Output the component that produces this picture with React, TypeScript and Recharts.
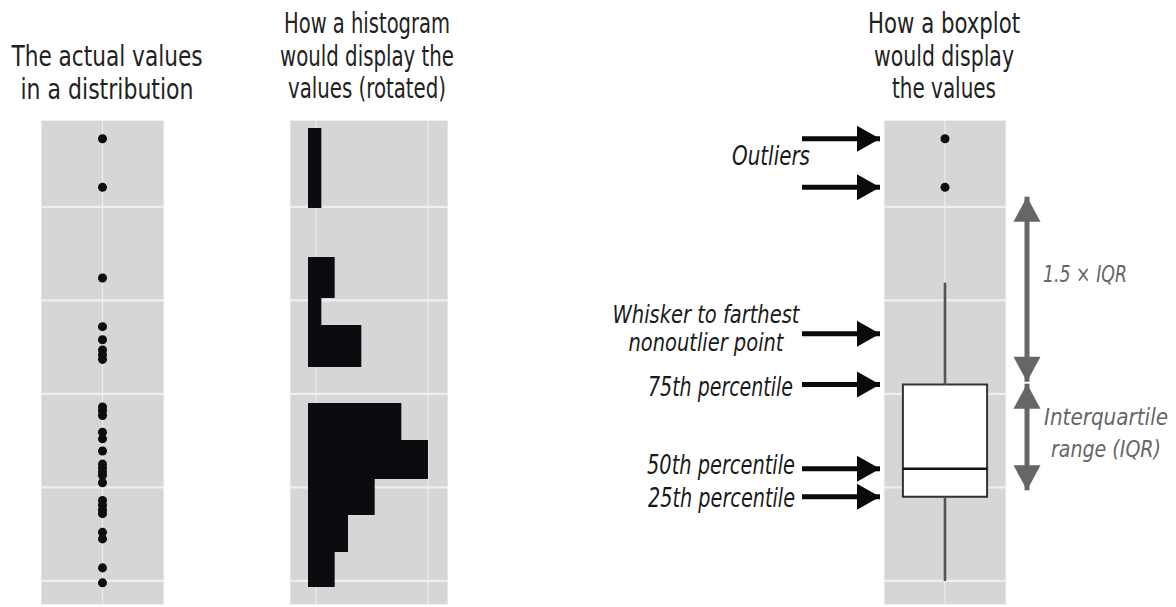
import React from "react";
import {
  ComposedChart,
  ScatterChart,
  Scatter,
  Area,
  Line,
  XAxis,
  YAxis,
  ZAxis,
  CartesianGrid,
  ReferenceLine,
  ReferenceArea,
} from "recharts";

// one value scale shared by the three panels
const valueDomain: [number, number] = [7.43, 59.3];
const gridValues = [10, 20, 30, 40, 50];

// the actual values (left panel)
const rawValues = [
  57.3, 52.1, 42.4, 37.2, 35.8, 34.7, 34.2, 33.7, 28.6, 28.2, 27.7, 25.9, 25.2,
  23.9, 22.5, 22.1, 21.7, 21.3, 20.5, 18.6, 18.1, 17.6, 17.2, 15.2, 14.5, 11.4,
  9.8,
];

// histogram: top edge of each bin, and its count
const binTops = [58.45, 49.89, 44.65, 40.27, 37.38, 32.89, 29.04, 25.08, 20.91, 17.06, 13.1, 9.36];
const binCounts = [1, 0, 2, 1, 4, 0, 7, 9, 5, 3, 2, 0];
const countTicks = [0.6, 9];

// boxplot summary
const whiskerLow = 10.0;
const q1 = 19.0;
const median = 22.0;
const q3 = 31.0;
const whiskerHigh = 41.9;
const outlierValues = [57.3, 52.1];

// ends of the grey range arrows
const fenceTop = 51.1;
const iqrArrowTop = 31.1;
const iqrArrowBottom = 19.7;

const dotData = rawValues.map((v) => ({ x: 0, v }));
const histData = binTops.map((edge, i) => ({ edge, count: binCounts[i] }));
const outlierData = outlierValues.map((v) => ({ x: 0, v }));

const PANEL_TOP = 120;
const PANEL_H = 485;
const zero = { top: 0, right: 0, bottom: 0, left: 0 };
const panelFill = "#d6d6d6";
const textFont = '"DejaVu Sans Condensed", "Liberation Sans Narrow", "Open Sans", sans-serif';

function panelGrid() {
  return [
    <CartesianGrid key="gv" horizontal={false} fill={panelFill} fillOpacity={1} stroke="#ededed" strokeWidth={1.2} />,
    <CartesianGrid key="gh" vertical={false} stroke="#efefef" strokeWidth={2.2} />,
  ];
}

// annotation layer: x in px from its left edge
const arrowFrom = 242;
const arrowTo = 320;
const rangeArrowX = 467;

const pointerValues = [...outlierValues, (q3 + whiskerHigh) / 2, q3, median, q1];
const pointerArrows = pointerValues.map((v) => [
  { x: arrowFrom, v, tip: "" },
  { x: arrowTo, v, tip: "right" },
]);
const rangeArrows = [
  [
    { x: rangeArrowX, v: fenceTop, tip: "up" },
    { x: rangeArrowX, v: q3 + 0.3, tip: "down" },
  ],
  [
    { x: rangeArrowX, v: iqrArrowTop, tip: "up" },
    { x: rangeArrowX, v: iqrArrowBottom, tip: "down" },
  ],
];

function arrowHead(color: string, len: number, half: number) {
  return (p: any) => {
    const { cx, cy, payload, key } = p;
    const t = payload?.tip;
    let pts = "";
    if (t === "right") pts = `${cx},${cy} ${cx - len},${cy - half} ${cx - len},${cy + half}`;
    else if (t === "up") pts = `${cx},${cy} ${cx - half},${cy + len} ${cx + half},${cy + len}`;
    else if (t === "down") pts = `${cx},${cy} ${cx - half},${cy - len} ${cx + half},${cy - len}`;
    if (!pts) return <g key={key} />;
    return <polygon key={key} points={pts} fill={color} />;
  };
}

const blackHead = arrowHead("#0a0a0a", 23, 13);
const greyHead = arrowHead("#666666", 25, 13.5);

type Label = { text: string; x: number; y: number; w: number; anchor: "start" | "middle" | "end" };

const titles: Label[] = [
  { text: "The actual values", x: 107, y: 66, w: 191, anchor: "middle" },
  { text: "in a distribution", x: 107, y: 98.5, w: 173, anchor: "middle" },
  { text: "How a histogram", x: 367, y: 33, w: 166, anchor: "middle" },
  { text: "would display the", x: 367, y: 65.5, w: 174, anchor: "middle" },
  { text: "values (rotated)", x: 367, y: 98, w: 158, anchor: "middle" },
  { text: "How a boxplot", x: 944, y: 33, w: 152, anchor: "middle" },
  { text: "would display", x: 944, y: 65.5, w: 140, anchor: "middle" },
  { text: "the values", x: 944, y: 98, w: 104, anchor: "middle" },
];

const leftNotes: Label[] = [
  { text: "Outliers", x: 810, y: 165, w: 78, anchor: "end" },
  { text: "75th percentile", x: 793, y: 396, w: 145, anchor: "end" },
  { text: "50th percentile", x: 795, y: 474, w: 148, anchor: "end" },
  { text: "25th percentile", x: 795, y: 507, w: 147, anchor: "end" },
];

const whiskerNote: Label[] = [
  { text: "Whisker to farthest", x: 706, y: 323, w: 187, anchor: "middle" },
  { text: "nonoutlier point", x: 706, y: 351, w: 155, anchor: "middle" },
];

const rightNotes: Label[] = [
  { text: "1.5 × IQR", x: 1043, y: 282, w: 84, anchor: "start" },
  { text: "Interquartile", x: 1106, y: 425, w: 124, anchor: "middle" },
  { text: "range (IQR)", x: 1106, y: 457, w: 110, anchor: "middle" },
];

function Texts({ items, size, color, italic }: { items: Label[]; size: number; color: string; italic?: boolean }) {
  return (
    <>
      {items.map((t) => (
        <text
          key={t.text}
          x={t.x}
          y={t.y}
          textAnchor={t.anchor}
          textLength={t.w}
          lengthAdjust="spacingAndGlyphs"
          fontFamily={textFont}
          fontSize={size}
          fontStyle={italic ? "italic" : "normal"}
          fill={color}
        >
          {t.text}
        </text>
      ))}
    </>
  );
}

export default function App() {
  const abs = (left: number, top: number): React.CSSProperties => ({ position: "absolute", left, top });
  return (
    <div style={{ position: "absolute", left: 0, top: 0, width: 1176, height: 607, background: "#fff", overflow: "hidden" }}>
      {/* annotation arrows, sharing the value scale */}
      <div style={abs(560, PANEL_TOP)}>
        <ComposedChart width={616} height={PANEL_H} margin={zero}>
          <XAxis type="number" dataKey="x" domain={[0, 616]} hide allowDataOverflow />
          <YAxis type="number" dataKey="v" domain={valueDomain} hide allowDataOverflow />
          {pointerArrows.map((d, i) => (
            <Line
              key={`p${i}`}
              data={d}
              dataKey="v"
              type="linear"
              stroke="#0a0a0a"
              strokeWidth={5}
              dot={blackHead}
              activeDot={false}
              isAnimationActive={false}
            />
          ))}
          {rangeArrows.map((d, i) => (
            <Line
              key={`r${i}`}
              data={d}
              dataKey="v"
              type="linear"
              stroke="#666666"
              strokeWidth={5}
              dot={greyHead}
              activeDot={false}
              isAnimationActive={false}
            />
          ))}
        </ComposedChart>
      </div>

      {/* actual values */}
      <div style={abs(41, PANEL_TOP)}>
        <ScatterChart width={123} height={PANEL_H} margin={zero}>
          {panelGrid()}
          <XAxis type="number" dataKey="x" domain={[-1, 1]} ticks={[0]} hide />
          <YAxis type="number" dataKey="v" domain={valueDomain} ticks={gridValues} hide allowDataOverflow />
          <ZAxis range={[32, 32]} />
          <Scatter data={dotData} fill="#0d0d0d" isAnimationActive={false} />
        </ScatterChart>
      </div>

      {/* histogram, rotated */}
      <div style={abs(290, PANEL_TOP)}>
        <ComposedChart layout="vertical" width={158} height={PANEL_H} data={histData} margin={zero}>
          {panelGrid()}
          <XAxis type="number" dataKey="count" domain={[-1.35, 10.5]} ticks={countTicks} hide allowDataOverflow />
          <YAxis type="number" dataKey="edge" domain={valueDomain} ticks={gridValues} hide allowDataOverflow reversed />
          <Area
            type="stepBefore"
            dataKey="count"
            baseValue={0}
            stroke="none"
            fill="#0b0b10"
            fillOpacity={1}
            dot={false}
            activeDot={false}
            isAnimationActive={false}
          />
        </ComposedChart>
      </div>

      {/* boxplot */}
      <div style={abs(884, PANEL_TOP)}>
        <ComposedChart width={122} height={PANEL_H} margin={zero}>
          {panelGrid()}
          <XAxis type="number" dataKey="x" domain={[-1, 1]} ticks={[0]} hide />
          <YAxis type="number" dataKey="v" domain={valueDomain} ticks={gridValues} hide allowDataOverflow />
          <ZAxis range={[32, 32]} />
          <ReferenceLine segment={[{ x: 0, y: q3 }, { x: 0, y: whiskerHigh }]} stroke="#555" strokeWidth={2.6} />
          <ReferenceLine segment={[{ x: 0, y: whiskerLow }, { x: 0, y: q1 }]} stroke="#555" strokeWidth={2.6} />
          <ReferenceArea
            x1={-0.69}
            x2={0.69}
            y1={q1}
            y2={q3}
            fill="#ffffff"
            fillOpacity={1}
            stroke="#333"
            strokeWidth={2}
          />
          <ReferenceLine segment={[{ x: -0.69, y: median }, { x: 0.69, y: median }]} stroke="#111" strokeWidth={2.4} />
          <Scatter data={outlierData} fill="#0d0d0d" isAnimationActive={false} />
        </ComposedChart>
      </div>

      <svg width={1176} height={607} style={{ position: "absolute", left: 0, top: 0, pointerEvents: "none" }}>
        <Texts items={titles} size={27.5} color="#222" />
        <Texts items={leftNotes} size={26} color="#1a1a1a" italic />
        <Texts items={whiskerNote} size={24} color="#1a1a1a" italic />
        <Texts items={rightNotes} size={23} color="#666" italic />
      </svg>
    </div>
  );
}
